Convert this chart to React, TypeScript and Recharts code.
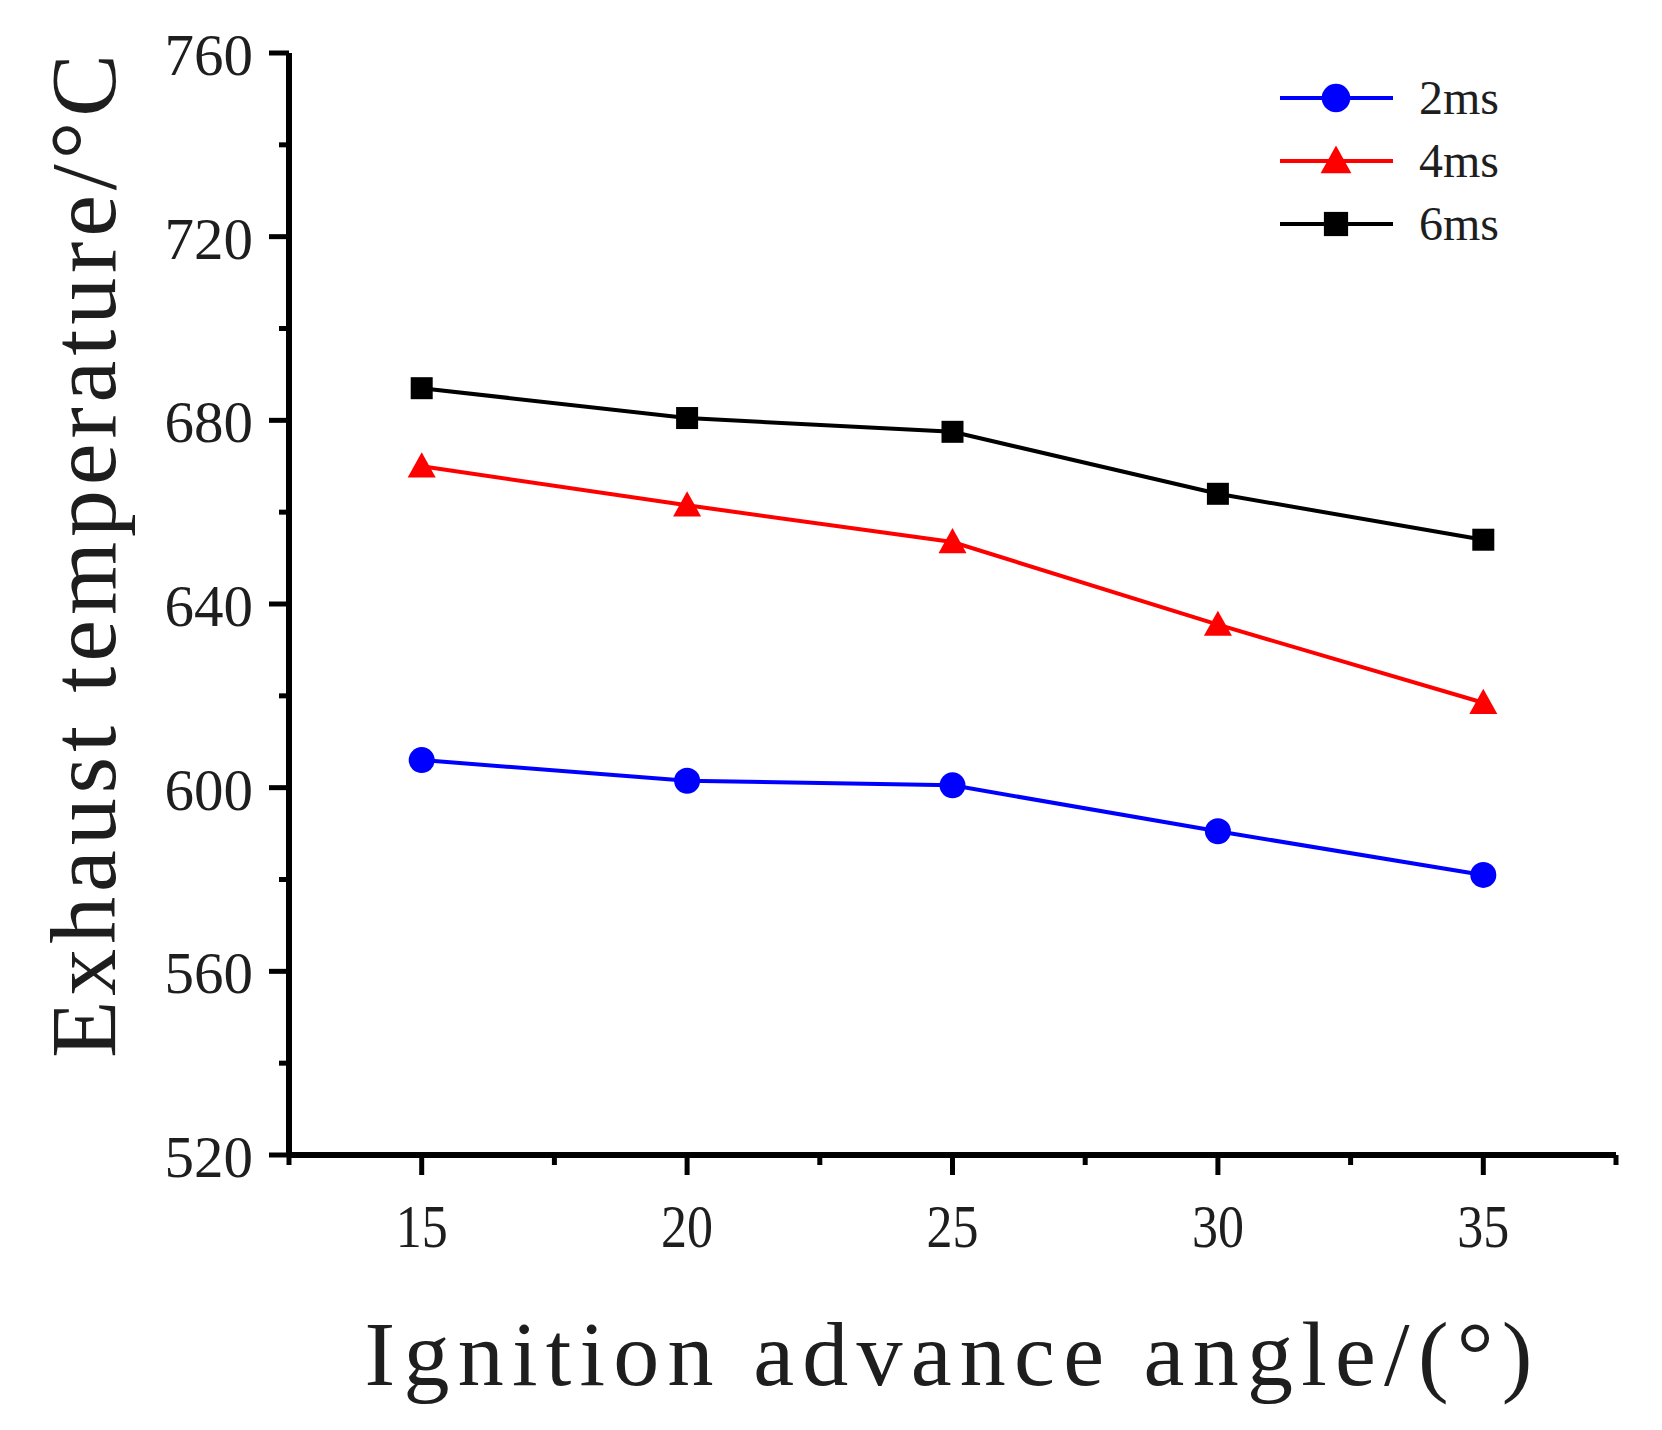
import React from "react";
import { LineChart, Line, XAxis, YAxis, Legend, Label } from "recharts";

// ignition advance angle (°)
const angles = [15, 20, 25, 30, 35];
// exhaust temperature (°C) per ignition duration
const temp2ms = [606, 601.5, 600.5, 590.5, 581];
const temp4ms = [670, 661.5, 653.5, 635.5, 618.5];
const temp6ms = [687, 680.5, 677.5, 664, 654];

const xTicks = [12.5, 15, 17.5, 20, 22.5, 25, 27.5, 30, 32.5, 35, 37.5];
const yTicks = [520, 540, 560, 580, 600, 620, 640, 660, 680, 700, 720, 740, 760];

const data = angles.map((a, i) => ({
  angle: a,
  ms2: temp2ms[i],
  ms4: temp4ms[i],
  ms6: temp6ms[i],
}));

const FONT = "'Liberation Serif', 'Times New Roman', serif";
const TEXT = "#1e1e1e";

const series = [
  { key: "ms2", name: "2ms", color: "#0000ff", shape: "circle" },
  { key: "ms4", name: "4ms", color: "#ff0000", shape: "triangle" },
  { key: "ms6", name: "6ms", color: "#000000", shape: "square" },
];

function Marker({ shape, cx, cy, color, size = 1 }: any) {
  if (cx == null || cy == null) return null;
  if (shape === "triangle") {
    const h = 14 * size;
    return (
      <polygon
        points={`${cx},${cy - h} ${cx - h},${cy + h * 0.8} ${cx + h},${cy + h * 0.8}`}
        fill={color}
      />
    );
  }
  if (shape === "square") {
    const s = 11 * size;
    return <rect x={cx - s} y={cy - s} width={s * 2} height={s * 2} fill={color} />;
  }
  return <circle cx={cx} cy={cy} r={13 * size} fill={color} />;
}

const YTick = (props: any) => {
  const { x, y, payload } = props;
  const major = payload.value % 40 === 0;
  return (
    <g>
      <line x1={x} x2={x - (major ? 20 : 10)} y1={y} y2={y} stroke="#000" strokeWidth={5} />
      {major && (
        <text x={x - 36} y={y} dy={22} textAnchor="end" fontSize={59} fontFamily={FONT} fill={TEXT}>
          {payload.value}
        </text>
      )}
    </g>
  );
};

const XTick = (props: any) => {
  const { x, y, payload } = props;
  const major = payload.value % 5 === 0;
  return (
    <g>
      <line x1={x} x2={x} y1={y} y2={y + (major ? 20 : 10)} stroke="#000" strokeWidth={5} />
      {major && (
        <text
          x={x}
          y={y + 92}
          textAnchor="middle"
          fontSize={62}
          fontFamily={FONT}
          fill={TEXT}
          textLength={52}
          lengthAdjust="spacingAndGlyphs"
        >
          {payload.value}
        </text>
      )}
    </g>
  );
};

const renderLegend = (props: any) => {
  const { payload = [] } = props;
  return (
    <svg width={360} height={200}>
      {payload.map((entry: any, i: number) => {
        const s = series.find((d) => d.key === entry.dataKey) || series[i];
        const cy = 34 + i * 63;
        return (
          <g key={s.key}>
            <line x1={2} x2={115} y1={cy} y2={cy} stroke={s.color} strokeWidth={4} />
            <Marker shape={s.shape} cx={58} cy={cy} color={s.color} size={1.1} />
            <text x={141} y={cy + 16} fontSize={48} fontFamily={FONT} fill={TEXT}>
              {entry.value}
            </text>
          </g>
        );
      })}
    </svg>
  );
};

const YTitle = (props: any) => {
  const vb = props.viewBox || { x: 0, y: 0, width: 0, height: 0 };
  const x = vb.x + 26;
  const y = vb.y + vb.height / 2 - 48;
  return (
    <text
      x={x}
      y={y}
      transform={`rotate(-90, ${x}, ${y})`}
      textAnchor="middle"
      fontSize={94}
      fontFamily={FONT}
      fill={TEXT}
      textLength={1004}
      lengthAdjust="spacing"
    >
      Exhaust temperature/°C
    </text>
  );
};

const XTitle = (props: any) => {
  const vb = props.viewBox || { x: 0, y: 0, width: 0, height: 0 };
  return (
    <text
      x={vb.x + vb.width / 2 - 4}
      y={vb.y + 230}
      textAnchor="middle"
      fontSize={92}
      fontFamily={FONT}
      fill={TEXT}
      textLength={1168}
      lengthAdjust="spacing"
    >
      Ignition advance angle/(°)
    </text>
  );
};

export default function App() {
  return (
    <div style={{ width: 1646, height: 1414, background: "#fff" }}>
      <LineChart
        width={1646}
        height={1414}
        data={data}
        margin={{ top: 45, right: 38, left: 81, bottom: 67 }}
      >
        <XAxis
          dataKey="angle"
          type="number"
          domain={[12.5, 37.5]}
          ticks={xTicks}
          interval={0}
          height={200}
          tickSize={0}
          tickMargin={0}
          tickLine={false}
          tick={<XTick />}
          axisLine={{ stroke: "#000", strokeWidth: 6 }}
        >
          <Label content={<XTitle />} />
        </XAxis>
        <YAxis
          type="number"
          domain={[520, 760]}
          ticks={yTicks}
          interval={0}
          width={200}
          tickSize={0}
          tickMargin={0}
          tickLine={false}
          tick={<YTick />}
          axisLine={{ stroke: "#000", strokeWidth: 6 }}
        >
          <Label content={<YTitle />} />
        </YAxis>
        <Legend
          layout="vertical"
          align="center"
          verticalAlign="middle"
          content={renderLegend}
          wrapperStyle={{ left: 1270, top: 56, width: 360, height: 200 }}
        />
        {series.map((s) => (
          <Line
            key={s.key}
            dataKey={s.key}
            name={s.name}
            stroke={s.color}
            strokeWidth={4}
            isAnimationActive={false}
            legendType="line"
            dot={(p: any) => (
              <Marker key={`${s.key}-${p.index}`} shape={s.shape} cx={p.cx} cy={p.cy} color={s.color} />
            )}
            activeDot={false}
          />
        ))}
      </LineChart>
    </div>
  );
}
